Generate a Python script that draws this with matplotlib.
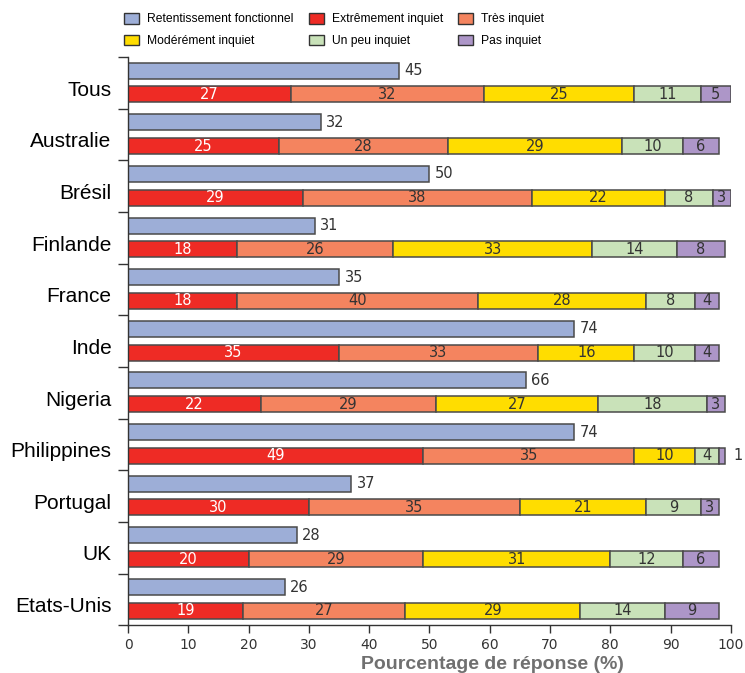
import numpy as np
import matplotlib.pyplot as plt
from matplotlib.patches import Patch

countries = ['Tous', 'Australie', 'Brésil', 'Finlande', 'France', 'Inde', 'Nigeria',
             'Philippines', 'Portugal', 'UK', 'Etats-Unis']
retentissement = [45, 32, 50, 31, 35, 74, 66, 74, 37, 28, 26]
extremement = [27, 25, 29, 18, 18, 35, 22, 49, 30, 20, 19]
tres = [32, 28, 38, 26, 40, 33, 29, 35, 35, 29, 27]
moderement = [25, 29, 22, 33, 28, 16, 27, 10, 21, 31, 29]
un_peu = [11, 10, 8, 14, 8, 10, 18, 4, 9, 12, 14]
pas = [5, 6, 3, 8, 4, 4, 3, 1, 3, 6, 9]

series_names = ['Extrêmement inquiet', 'Très inquiet', 'Modérément inquiet',
                'Un peu inquiet', 'Pas inquiet']
series = [extremement, tres, moderement, un_peu, pas]
colors = ['#ee2b25', '#f4845f', '#ffdd00', '#c9e2b9', '#ad96c8']
blue = '#9daed7'
edge = '#4a4a4a'

narrow = ['Liberation Sans Narrow', 'DejaVu Sans Condensed', 'DejaVu Sans']
plt.rcParams['font.family'] = ['Liberation Sans', 'DejaVu Sans']

fig = plt.figure(figsize=(7.45, 6.73), dpi=100)
ax = fig.add_axes([0.172, 0.071, 0.809, 0.844])

n = len(countries)
y = np.arange(n)
h = 0.31
y_blue = y + 0.26
y_stack = y + 0.72

ax.barh(y_blue, retentissement, height=h, color=blue, edgecolor=edge, linewidth=1.1)
for yi, v in zip(y_blue, retentissement):
    ax.text(v + 0.9, yi, str(v), va='center', ha='left', fontsize=10.5,
            color='#333333', family=narrow)

left = np.zeros(n)
for name, vals, col in zip(series_names, series, colors):
    vals = np.array(vals, dtype=float)
    ax.barh(y_stack, vals, left=left, height=h, color=col, edgecolor=edge, linewidth=1.1)
    for yi, l, v in zip(y_stack, left, vals):
        tc = 'white' if col == '#ee2b25' else '#333333'
        if v < 2:
            ax.text(l + v + 1.5, yi, str(int(v)), va='center', ha='left', fontsize=10.5,
                    color='#333333', family=narrow)
        else:
            ax.text(l + v / 2, yi, str(int(v)), va='center', ha='center', fontsize=10.5,
                    color=tc, family=narrow)
    left += vals

ax.set_xlim(0, 100)
ax.set_ylim(n, 0)
ax.set_xticks(np.arange(0, 101, 10))
ax.set_xticklabels([str(t) for t in range(0, 101, 10)], family=narrow, fontsize=10,
                   color='#333333')
ax.tick_params(axis='x', length=6, width=1, color='#333333', pad=3)
ax.set_yticks(np.arange(0, n + 1))
ax.set_yticklabels([])
ax.tick_params(axis='y', which='major', length=7, width=1, color='#333333')
ax.set_yticks(y + 0.6, countries, minor=True)
ax.tick_params(axis='y', which='minor', length=0, pad=12, labelsize=15)

for s in ['top', 'right']:
    ax.spines[s].set_visible(False)
for s in ['left', 'bottom']:
    ax.spines[s].set_color('#333333')
    ax.spines[s].set_linewidth(1)

ax.set_xlabel('Pourcentage de réponse (%)', fontsize=14, fontweight='bold',
              color='#707070', labelpad=3, x=0.605)

handles = [Patch(facecolor=blue, edgecolor='#333333', label='Retentissement fonctionnel')]
handles += [Patch(facecolor=c, edgecolor='#333333', label=nm) for c, nm in zip(colors, series_names)]
order = [0, 3, 1, 4, 2, 5]
fig.legend([handles[i] for i in order], [handles[i].get_label() for i in order],
           loc='upper left', bbox_to_anchor=(0.152, 0.997), ncol=3, frameon=False,
           prop={'family': ['Liberation Sans', 'DejaVu Sans'], 'size': 8.7},
           handlelength=1.25, handleheight=1.0,
           columnspacing=1.25, labelspacing=0.75, handletextpad=0.65)

plt.savefig('out.png', dpi=100)
plt.close()
